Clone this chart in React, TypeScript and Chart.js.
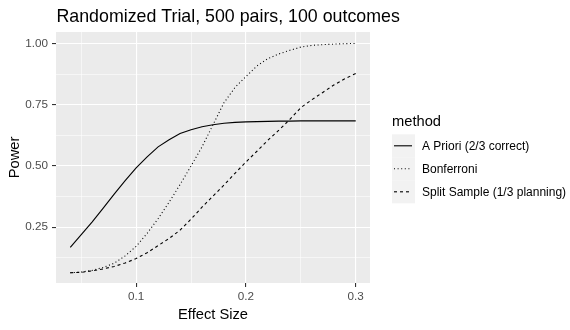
import React, { useEffect, useRef } from "react";
import { Chart, registerables } from "chart.js";

Chart.register(...registerables);

const titleText = "Randomized Trial, 500 pairs, 100 outcomes";
const xTitle = "Effect Size";
const yTitle = "Power";
const legendTitle = "method";
const methods = ["A Priori (2/3 correct)", "Bonferroni", "Split Sample (1/3 planning)"];

const effectSizes = [
  0.04, 0.05, 0.06, 0.07, 0.08, 0.09, 0.1, 0.11, 0.12, 0.13, 0.14, 0.15, 0.16, 0.17,
  0.18, 0.19, 0.2, 0.21, 0.22, 0.23, 0.24, 0.25, 0.26, 0.27, 0.28, 0.29, 0.3,
];
const aPriori = [
  0.168, 0.22, 0.272, 0.328, 0.385, 0.44, 0.492, 0.537, 0.578, 0.607, 0.632, 0.648, 0.66, 0.668,
  0.674, 0.678, 0.68, 0.681, 0.682, 0.683, 0.683, 0.684, 0.684, 0.684, 0.684, 0.684, 0.684,
];
const bonferroni = [
  0.064, 0.067, 0.074, 0.086, 0.103, 0.133, 0.172, 0.225, 0.285, 0.352, 0.424, 0.5, 0.578, 0.668,
  0.758, 0.82, 0.865, 0.908, 0.938, 0.957, 0.972, 0.985, 0.992, 0.995, 0.997, 0.999, 1.0,
];
const splitSample = [
  0.064, 0.066, 0.072, 0.08, 0.09, 0.104, 0.122, 0.146, 0.175, 0.204, 0.238, 0.283, 0.332, 0.377,
  0.422, 0.47, 0.516, 0.56, 0.605, 0.646, 0.69, 0.738, 0.77, 0.8, 0.83, 0.856, 0.877,
];
const xTickValues = [0.05, 0.1, 0.15, 0.2, 0.25, 0.3];
const yTickValues = [0.125, 0.25, 0.375, 0.5, 0.625, 0.75, 0.875, 1.0];
const dashes = [[], [1, 2.6], [3, 3]];

const FONT = '"Liberation Sans", Arial, sans-serif';

const isMajorX = (v: number) => Math.abs(v * 10 - Math.round(v * 10)) < 1e-6;
const isMajorY = (v: number) => Math.abs(v * 4 - Math.round(v * 4)) < 1e-6;

const decorPlugin = {
  id: "decor",
  beforeDraw(chart: any) {
    const { ctx, chartArea: a } = chart;
    ctx.save();
    ctx.fillStyle = "#EBEBEB";
    ctx.fillRect(a.left, a.top, a.right - a.left, a.bottom - a.top);
    ctx.restore();
  },
  afterDraw(chart: any) {
    const { ctx, chartArea: a } = chart;
    ctx.save();
    ctx.fillStyle = "#000000";
    // title
    ctx.font = `17.8px ${FONT}`;
    ctx.textAlign = "left";
    ctx.textBaseline = "alphabetic";
    ctx.fillText(titleText, 56.5, 21.7);
    // x title
    ctx.font = `14.7px ${FONT}`;
    ctx.textAlign = "center";
    ctx.textBaseline = "middle";
    ctx.fillText(xTitle, (a.left + a.right) / 2, 315);
    // y title
    ctx.save();
    ctx.translate(15, (a.top + a.bottom) / 2);
    ctx.rotate(-Math.PI / 2);
    ctx.fillText(yTitle, 0, 0);
    ctx.restore();
    // legend
    ctx.textAlign = "left";
    ctx.font = `14.7px ${FONT}`;
    ctx.fillText(legendTitle, 392, 122);
    const keyX = 392;
    const keyTop = 134.3;
    const keySize = 23;
    methods.forEach((m, i) => {
      const y0 = keyTop + i * keySize;
      ctx.fillStyle = "#F2F2F2";
      ctx.fillRect(keyX, y0, keySize, keySize);
      ctx.strokeStyle = "#000000";
      ctx.lineWidth = 1.1;
      ctx.setLineDash(dashes[i]);
      ctx.beginPath();
      ctx.moveTo(keyX + 2, y0 + keySize / 2);
      ctx.lineTo(keyX + keySize - 3, y0 + keySize / 2);
      ctx.stroke();
      ctx.setLineDash([]);
      ctx.fillStyle = "#000000";
      ctx.font = `12px ${FONT}`;
      ctx.fillText(m, 422, y0 + keySize / 2 + 0.5);
    });
    ctx.restore();
  },
};

export default function App() {
  const ref = useRef<HTMLCanvasElement>(null);
  useEffect(() => {
    if (!ref.current) return;
    const series = [aPriori, bonferroni, splitSample];
    const chart = new Chart(ref.current, {
      type: "line",
      data: {
        datasets: series.map((s, i) => ({
          label: methods[i],
          data: effectSizes.map((x, j) => ({ x, y: s[j] })),
          borderColor: "#000000",
          borderWidth: 1.1,
          borderDash: dashes[i],
          pointRadius: 0,
          fill: false,
          tension: 0,
        })),
      },
      options: {
        animation: false,
        responsive: false,
        maintainAspectRatio: false,
        layout: { padding: { left: 0, top: 32, right: 200, bottom: 0 } },
        plugins: {
          legend: { display: false },
          title: { display: false },
          tooltip: { enabled: false },
        },
        scales: {
          x: {
            type: "linear",
            min: 0.027,
            max: 0.313,
            afterBuildTicks: (s: any) => {
              s.ticks = xTickValues.map((v) => ({ value: v }));
            },
            afterFit: (s: any) => {
              s.height = 47;
            },
            border: { display: false },
            grid: {
              color: "#FFFFFF",
              lineWidth: (c: any) => (c.tick && isMajorX(c.tick.value) ? 1.1 : 0.55),
              tickColor: (c: any) => (c.tick && isMajorX(c.tick.value) ? "#333333" : "rgba(0,0,0,0)"),
              tickLength: 4,
              drawTicks: true,
            },
            ticks: {
              autoSkip: false,
              maxRotation: 0,
              padding: 3,
              color: "#4D4D4D",
              font: { family: FONT, size: 11.7 },
              callback: (v: any) => (isMajorX(Number(v)) ? String(Math.round(Number(v) * 10) / 10) : ""),
            },
          },
          y: {
            type: "linear",
            min: 0.0224,
            max: 1.0466,
            afterBuildTicks: (s: any) => {
              s.ticks = yTickValues.map((v) => ({ value: v }));
            },
            afterFit: (s: any) => {
              s.width = 56;
            },
            border: { display: false },
            grid: {
              color: "#FFFFFF",
              lineWidth: (c: any) => (c.tick && isMajorY(c.tick.value) ? 1.1 : 0.55),
              tickColor: (c: any) => (c.tick && isMajorY(c.tick.value) ? "#333333" : "rgba(0,0,0,0)"),
              tickLength: 4,
              drawTicks: true,
            },
            ticks: {
              autoSkip: false,
              padding: 4,
              color: "#4D4D4D",
              font: { family: FONT, size: 11.7 },
              callback: (v: any) => (isMajorY(Number(v)) ? Number(v).toFixed(2) : ""),
            },
          },
        },
      },
      plugins: [decorPlugin],
    });
    return () => chart.destroy();
  }, []);
  return (
    <div style={{ position: "absolute", left: 0, top: 0, width: 570, height: 330, background: "#FFFFFF" }}>
      <canvas ref={ref} width={570} height={330} style={{ width: 570, height: 330 }} />
    </div>
  );
}
